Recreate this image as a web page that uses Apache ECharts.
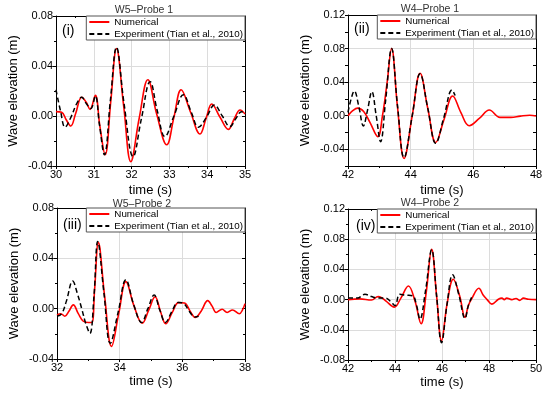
<!DOCTYPE html>
<html>
<head>
<meta charset="utf-8">
<script src="https://cdn.jsdelivr.net/npm/echarts@6/dist/echarts.min.js"></script>
<style>html,body{margin:0;padding:0;background:#fff}#c{width:550px;height:398px}</style>
</head>
<body>
<div id="c"></div>
<script>
// ---- Data (time s, wave elevation m) ----
const legendNames = ['Numerical', 'Experiment (Tian et al., 2010)'];
const panelTitles = ['W5\u2013Probe 1', 'W4\u2013Probe 1', 'W5\u2013Probe 2', 'W4\u2013Probe 2'];
const panelLabels = ['(i)', '(ii)', '(iii)', '(iv)'];

// Panel (i) W5-Probe 1
const p1NumT = [30.00,30.15,30.27,30.39,30.52,30.68,30.80,30.90,31.04,31.16,31.30,31.45,31.60,31.79,31.98,32.20,32.43,32.66,32.93,33.12,33.31,33.56,33.81,33.97,34.12,34.34,34.56,34.72,34.87,35.00];
const p1NumV = [0.0035,0.003,-0.003,-0.008,0.002,0.015,0.011,0.0053,0.0165,-0.008,-0.031,0.012,0.054,0.008,-0.0365,-0.002,0.029,0.002,-0.023,-0.001,0.021,0.003,-0.0144,-0.002,0.0096,-0.001,-0.0107,-0.002,0.0048,0.0016];
const p1ExpT = [30.00,30.12,30.24,30.38,30.55,30.68,30.80,30.92,31.04,31.15,31.28,31.44,31.60,31.80,32.04,32.26,32.49,32.68,32.88,33.12,33.37,33.58,33.77,33.98,34.19,34.40,34.60,34.76,34.91,35.00];
const p1ExpV = [0.021,0.004,-0.009,-0.002,0.010,0.015,0.010,0.006,0.016,-0.007,-0.031,0.013,0.055,0.010,-0.0325,-0.002,0.0275,0.004,-0.0165,0.000,0.017,0.003,-0.009,-0.001,0.0088,0.000,-0.0085,-0.002,0.0035,0.002];

// Panel (ii) W4-Probe 1
const p2NumT = [42.00,42.15,42.31,42.50,42.70,42.95,43.10,43.25,43.39,43.58,43.79,44.05,44.30,44.55,44.80,45.07,45.34,45.60,45.87,46.20,46.51,46.85,47.20,47.50,47.80,48.00];
const p2NumV = [0.000,0.006,0.009,0.005,-0.008,-0.025,0.000,0.040,0.080,0.010,-0.051,0.000,0.0505,0.008,-0.032,-0.004,0.0235,0.004,-0.012,-0.003,0.0068,-0.002,-0.002,-0.0005,0.0005,-0.0003];
const p2ExpT = [42.00,42.10,42.20,42.35,42.49,42.62,42.76,42.90,43.04,43.20,43.39,43.58,43.79,44.05,44.30,44.55,44.80,45.06,45.32,45.42];
const p2ExpV = [0.004,0.020,0.0295,0.010,-0.0123,0.006,0.0287,0.000,-0.031,0.018,0.080,0.012,-0.050,0.000,0.050,0.008,-0.033,-0.002,0.0306,0.024];

// Panel (iii) W5-Probe 2
const p3NumT = [32.00,32.12,32.25,32.38,32.52,32.68,32.84,33.00,33.11,33.20,33.32,33.52,33.74,33.97,34.20,34.46,34.72,34.93,35.13,35.30,35.47,35.68,35.88,36.07,36.25,36.41,36.60,36.81,36.95,37.08,37.27,37.43,37.60,37.82,37.92,38.00];
const p3NumV = [-0.005,-0.004,-0.006,-0.002,0.003,-0.004,-0.010,-0.011,-0.011,0.015,0.0525,0.010,-0.030,-0.004,0.0215,0.002,-0.0116,-0.001,0.0095,-0.002,-0.012,-0.003,0.0048,0.0045,-0.002,-0.007,-0.002,0.0064,0.002,-0.003,-0.0005,-0.003,-0.001,-0.004,-0.001,0.004];
const p3ExpT = [32.00,32.15,32.30,32.50,32.65,32.80,32.92,33.05,33.18,33.30,33.50,33.70,33.95,34.20,34.45,34.70,34.90,35.10,35.28,35.46,35.67,35.87,36.05,36.22,36.40,36.52];
const p3ExpV = [-0.006,-0.004,0.006,0.022,0.012,-0.001,-0.012,-0.0196,0.010,0.0533,0.012,-0.0275,-0.003,0.023,0.003,-0.011,0.000,0.0108,-0.001,-0.011,-0.002,0.005,0.004,-0.002,-0.0066,-0.006];

// Panel (iv) W4-Probe 2
const p4NumT = [42.00,42.50,43.00,43.28,43.45,43.62,43.97,44.25,44.57,44.85,45.11,45.33,45.56,45.77,45.98,46.22,46.48,46.75,46.98,47.12,47.26,47.57,47.75,47.92,48.12,48.40,48.55,48.65,48.75,48.97,49.15,49.30,49.47,49.68,50.00];
const p4NumV = [0.000,0.001,-0.0005,0.004,0.002,-0.002,-0.010,0.002,0.018,-0.002,-0.032,0.010,0.0665,0.005,-0.0545,-0.005,0.027,0.005,-0.0235,-0.008,0.001,0.015,0.006,0.000,-0.006,0.0005,0.002,0.000,0.002,0.000,0.0015,-0.001,0.002,0.0005,0.000];
const p4ExpT = [42.00,42.40,42.72,43.00,43.28,43.60,43.80,44.00,44.20,44.45,44.75,44.92,45.06,45.30,45.56,45.77,45.98,46.22,46.45,46.72,46.98,47.12,47.26];
const p4ExpV = [0.002,0.002,0.007,0.004,0.002,0.002,-0.002,-0.008,0.007,0.006,0.005,-0.008,-0.026,0.012,0.066,0.005,-0.057,-0.005,0.033,0.006,-0.025,-0.008,0.003];

// Axis ranges
const xMin = [30, 42, 32, 42], xMax = [35, 48, 38, 50], xInt = [1, 2, 2, 2];
const yMin = [-0.04, -0.06, -0.04, -0.08], yMax = [0.08, 0.12, 0.08, 0.12], yInt = [0.04, 0.02, 0.04, 0.04];

// ---- Layout ----
const grids = [
  {left: 56, top: 16, width: 189, height: 150},
  {left: 348, top: 15, width: 188, height: 151},
  {left: 57, top: 208, width: 188, height: 151},
  {left: 348, top: 209, width: 188, height: 151}
];
const FONT = '"Liberation Sans", Arial, sans-serif';
const zip = (t, v) => t.map((x, i) => [x, v[i]]);
const numData = [zip(p1NumT, p1NumV), zip(p2NumT, p2NumV), zip(p3NumT, p3NumV), zip(p4NumT, p4NumV)];
const expData = [zip(p1ExpT, p1ExpV), zip(p2ExpT, p2ExpV), zip(p3ExpT, p3ExpV), zip(p4ExpT, p4ExpV)];

const xAxes = [], yAxes = [], series = [], legends = [], titles = [], graphics = [];
const titlePos = [[144, 5], [430, 4], [142, 199], [430, 198]];
const labelPos = [[62, 24], [354, 22], [63, 218], [356, 219]];
const xNameGap = [18, 18, 16, 16];

function yFmt(p) {
  return function (v) {
    if (p === 1 && Math.abs(Math.round(v * 100)) % 4 !== 0) return '';
    if (Math.abs(v) < 1e-9) return '0.00';
    return v.toFixed(2);
  };
}

for (let p = 0; p < 4; p++) {
  const g = grids[p];
  xAxes.push({
    type: 'value', gridIndex: p, position: 'bottom', min: xMin[p], max: xMax[p], interval: xInt[p],
    name: 'time (s)', nameLocation: 'middle', nameGap: xNameGap[p],
    nameTextStyle: {fontFamily: FONT, fontSize: 13, color: '#000'},
    axisLine: {show: true, onZero: false, lineStyle: {color: '#000', width: 1}},
    axisTick: {show: true, inside: false, length: 3, lineStyle: {color: '#000'}},
    minorTick: {show: true, splitNumber: 2, length: 2, lineStyle: {color: '#000'}},
    axisLabel: {fontFamily: FONT, fontSize: 11, color: '#000', margin: 3,
      formatter: v => String(Math.round(v))},
    splitLine: {show: true, lineStyle: {color: '#dcdcdc', width: 1}}
  });
  xAxes.push({
    type: 'value', gridIndex: p, position: 'top', min: xMin[p], max: xMax[p], interval: xInt[p],
    axisLine: {show: true, onZero: false, lineStyle: {color: '#000', width: 1}},
    axisTick: {show: true, inside: true, length: 3, lineStyle: {color: '#000'}},
    minorTick: {show: true, splitNumber: 2, length: 2, lineStyle: {color: '#000'}},
    axisLabel: {show: false}, splitLine: {show: false}
  });
  const yMinor = p === 1 ? {show: false} : {show: true, splitNumber: 2, length: 2, lineStyle: {color: '#000'}};
  yAxes.push({
    type: 'value', gridIndex: p, position: 'left', min: yMin[p], max: yMax[p], interval: yInt[p],
    name: 'Wave elevation (m)', nameLocation: 'middle', nameGap: 36,
    nameTextStyle: {fontFamily: FONT, fontSize: 13, color: '#000'},
    axisLine: {show: true, onZero: false, lineStyle: {color: '#000', width: 1}},
    axisTick: {show: true, inside: false, length: 3, lineStyle: {color: '#000'}},
    minorTick: yMinor,
    axisLabel: {fontFamily: FONT, fontSize: 11, color: '#000', margin: 3, formatter: yFmt(p)},
    splitLine: {show: true, lineStyle: {color: p === 1 ? ['rgba(0,0,0,0)', '#dcdcdc'] : '#dcdcdc', width: 1}}
  });
  yAxes.push({
    type: 'value', gridIndex: p, position: 'right', min: yMin[p], max: yMax[p], interval: yInt[p],
    axisLine: {show: true, onZero: false, lineStyle: {color: '#000', width: 1}},
    axisTick: {show: true, inside: true, length: 3, lineStyle: {color: '#000'}},
    minorTick: yMinor,
    axisLabel: {show: false}, splitLine: {show: false}
  });
  series.push({
    name: legendNames[0], type: 'line', xAxisIndex: 2 * p, yAxisIndex: 2 * p,
    data: numData[p], smooth: 0.4, symbol: 'none', showSymbol: false, z: 3,
    lineStyle: {color: '#ff0000', width: 1.6}, itemStyle: {color: '#ff0000'}
  });
  series.push({
    name: legendNames[1], type: 'line', xAxisIndex: 2 * p, yAxisIndex: 2 * p,
    data: expData[p], smooth: 0.4, symbol: 'none', showSymbol: false, z: 4,
    lineStyle: {color: '#000', width: 1.5, type: [5, 3]}, itemStyle: {color: '#000'}
  });
  legends.push({
    data: legendNames, orient: 'vertical', right: 550 - (g.left + g.width), top: g.top,
    backgroundColor: '#fff', borderColor: '#555', borderWidth: 1, borderRadius: 0,
    padding: [1, 2, 1, 2], itemGap: 2, itemWidth: 20, itemHeight: 10, selectedMode: false,
    itemStyle: {color: 'rgba(0,0,0,0)', borderColor: 'rgba(0,0,0,0)', borderWidth: 0, opacity: 0},
    textStyle: {fontFamily: FONT, fontSize: 9.8, color: '#000'}
  });
  titles.push({
    text: panelTitles[p], left: titlePos[p][0], top: titlePos[p][1], textAlign: 'center', padding: 0,
    textStyle: {fontFamily: FONT, fontSize: 10.5, fontWeight: 'normal', color: '#333'}
  });
  graphics.push({
    type: 'text', left: labelPos[p][0], top: labelPos[p][1], z: 10,
    style: {text: panelLabels[p], fontFamily: FONT, fontSize: 14, fill: '#000'}
  });
}

const chart = echarts.init(document.getElementById('c'), null, {renderer: 'canvas'});
chart.setOption({
  animation: false,
  backgroundColor: '#fff',
  title: titles,
  legend: legends,
  grid: grids,
  xAxis: xAxes,
  yAxis: yAxes,
  series: series,
  graphic: graphics
});
</script>
</body>
</html>
